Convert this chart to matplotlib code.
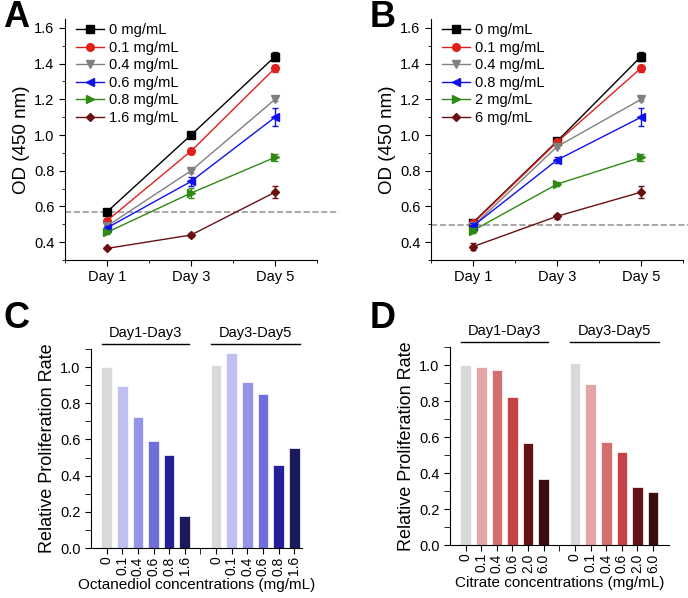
import numpy as np
import matplotlib.pyplot as plt
from matplotlib.ticker import MultipleLocator, FixedLocator

plt.rcParams['font.family'] = ['Liberation Sans', 'DejaVu Sans']
plt.rcParams['xtick.direction'] = 'out'
plt.rcParams['ytick.direction'] = 'out'

# Panel A / B: OD (450 nm) over days
days = ['Day 1', 'Day 3', 'Day 5']
colors = ['#000000', '#e0201c', '#808080', '#1010f0', '#2f8a14', '#6a1010']
markers = ['s', 'o', 'v', '<', '>', 'D']

labels_a = ['0 mg/mL', '0.1 mg/mL', '0.4 mg/mL', '0.6 mg/mL', '0.8 mg/mL', '1.6 mg/mL']
od_a = [[0.57, 1.00, 1.44],
        [0.52, 0.91, 1.375],
        [0.49, 0.80, 1.20],
        [0.48, 0.74, 1.10],
        [0.455, 0.675, 0.875],
        [0.365, 0.44, 0.68]]
err_a = [[0.005, 0.01, 0.025],
         [0.01, 0.015, 0.02],
         [0.01, 0.015, 0.01],
         [0.01, 0.025, 0.05],
         [0.01, 0.03, 0.02],
         [0.005, 0.01, 0.035]]
ref_a = 0.57

labels_b = ['0 mg/mL', '0.1 mg/mL', '0.4 mg/mL', '0.8 mg/mL', '2 mg/mL', '6 mg/mL']
od_b = [[0.51, 0.965, 1.44],
        [0.505, 0.96, 1.375],
        [0.49, 0.935, 1.20],
        [0.49, 0.86, 1.10],
        [0.465, 0.725, 0.875],
        [0.375, 0.545, 0.68]]
err_b = [[0.015, 0.015, 0.025],
         [0.01, 0.01, 0.02],
         [0.01, 0.01, 0.01],
         [0.015, 0.015, 0.05],
         [0.015, 0.01, 0.02],
         [0.02, 0.015, 0.035]]
ref_b = 0.495

# Panel C / D: relative proliferation rate
groups = ['Day1-Day3', 'Day3-Day5']
conc_c = ['0', '0.1', '0.4', '0.6', '0.8', '1.6']
rate_c_13 = [1.0, 0.895, 0.725, 0.59, 0.515, 0.175]
rate_c_35 = [1.01, 1.08, 0.915, 0.85, 0.46, 0.555]
bar_colors_c = ['#d9d9d9', '#bfbff2', '#9494e8', '#6f6fdc', '#24209a', '#1b1a5a']

conc_d = ['0', '0.1', '0.4', '0.6', '2.0', '6.0']
rate_d_13 = [1.0, 0.99, 0.97, 0.82, 0.565, 0.365]
rate_d_35 = [1.01, 0.895, 0.575, 0.515, 0.325, 0.295]
bar_colors_d = ['#d9d9d9', '#e3a5a5', '#d36f6f', '#c54143', '#651216', '#3a0d0f']

fig = plt.figure(figsize=(6.88, 5.98), dpi=100)


def line_panel(rect, od, err, labels, ref, ref_end):
    ax = fig.add_axes(rect)
    x = np.arange(1, 4)
    for i in range(len(od)):
        ms = 4.5 if markers[i] == 'D' else 5.5
        ax.plot(x, od[i], color=colors[i], marker=markers[i], markersize=ms,
                lw=1, label=labels[i])
        ax.errorbar(x, od[i], yerr=err[i], fmt='none', ecolor=colors[i],
                    capsize=2, elinewidth=1)
    ax.plot([0.5, ref_end], [ref, ref], ls='--', color='#999999', lw=1.2,
            clip_on=False, zorder=0)
    ax.set_xlim(0.5, 3.5)
    ax.set_ylim(0.3, 1.65)
    ax.set_xticks(x)
    ax.set_xticklabels(days, fontsize=10.5)
    ax.xaxis.set_minor_locator(FixedLocator([0.5, 1.5, 2.5, 3.5]))
    ax.yaxis.set_major_locator(MultipleLocator(0.2))
    ax.yaxis.set_minor_locator(MultipleLocator(0.1))
    ax.tick_params(labelsize=10.5, length=4)
    ax.tick_params(which='minor', length=2.5)
    ax.set_ylabel('OD (450 nm)', fontsize=13.5, labelpad=3)
    ax.spines['top'].set_visible(False)
    ax.spines['right'].set_visible(False)
    ax.legend(loc='upper left', bbox_to_anchor=(0.045, 0.982), frameon=False,
              fontsize=10.5, handlelength=1.9, handletextpad=0.35,
              labelspacing=0.24, borderpad=0.0, borderaxespad=0.0)
    return ax


def bar_panel(rect, r13, r35, conc, bcolors, xlabel, xmax):
    ax = fig.add_axes(rect)
    pos1 = np.arange(6)
    pos2 = np.arange(6) + 7
    ax.bar(pos1, r13, width=0.68, color=bcolors, edgecolor='white', lw=0.5)
    ax.bar(pos2, r35, width=0.68, color=bcolors, edgecolor='white', lw=0.5)
    ax.set_xlim(-1, xmax)
    ax.set_ylim(0, 1.1)
    ax.set_xticks(np.concatenate([pos1, pos2]))
    ax.set_xticklabels(conc + conc, rotation=90, fontsize=10)
    ax.xaxis.set_minor_locator(FixedLocator([6]))
    ax.yaxis.set_major_locator(MultipleLocator(0.2))
    ax.yaxis.set_minor_locator(MultipleLocator(0.1))
    ax.tick_params(axis='y', labelsize=10.5, length=4)
    ax.tick_params(axis='x', length=4, pad=2)
    ax.tick_params(which='minor', length=4)
    ax.set_ylabel('Relative Proliferation Rate', fontsize=13, labelpad=3)
    ax.set_xlabel(xlabel, fontsize=11, labelpad=2)
    ax.spines['top'].set_visible(False)
    ax.spines['right'].set_visible(False)
    for (a, b), g in zip([(-0.3, 5.3), (6.7, 12.4)], groups):
        ax.plot([a, b], [1.13, 1.13], color='black', lw=1, clip_on=False)
        ax.text((a + b) / 2, 1.15, g, ha='center', va='bottom', fontsize=10.5)
    return ax


line_panel([0.0945, 0.5652, 0.3663, 0.403], od_a, err_a, labels_a, ref_a, 3.76)
line_panel([0.6265, 0.5652, 0.3663, 0.403], od_b, err_b, labels_b, ref_b, 3.56)
bar_panel([0.1323, 0.0836, 0.3067, 0.3328], rate_c_13, rate_c_35, conc_c,
          bar_colors_c, 'Octanediol concentrations (mg/mL)', 12.5)
bar_panel([0.654, 0.0886, 0.318, 0.331], rate_d_13, rate_d_35, conc_d,
          bar_colors_d, 'Citrate concentrations (mg/mL)', 13)

for lx, ly, letter in [(0.005, 1.0, 'A'), (0.537, 1.0, 'B'),
                       (0.005, 0.497, 'C'), (0.537, 0.497, 'D')]:
    fig.text(lx, ly, letter, fontsize=26, fontweight='bold', va='top', ha='left')

fig.savefig('out.png', dpi=100)
